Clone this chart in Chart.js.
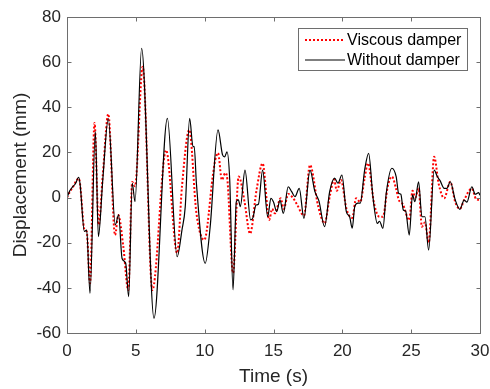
<!DOCTYPE html>
<html lang="en">
<head>
<meta charset="UTF-8">
<title>Displacement time history</title>
<style>
  html, body { margin: 0; padding: 0; background: #fff; }
  #wrap { position: relative; width: 490px; height: 389px; }
</style>
</head>
<body>
<div id="wrap"><canvas id="chart" width="490" height="389"></canvas></div>

<script src="https://cdn.jsdelivr.net/npm/chart.js"></script>
<script>
  // values (time in s, displacement in mm)
  const timeWithout = [0, 0.2, 0.41, 0.6, 0.85, 0.95, 1.26, 1.43, 1.67, 2.06, 2.28, 2.6, 3.0, 3.51, 3.75, 4.0, 4.26, 4.48, 4.74, 4.94,
    5.42, 6.32, 7.29, 8.0, 8.35, 8.59, 8.91, 9.15, 9.24, 9.4, 10.04, 10.4, 10.97, 11.3, 11.45, 11.62, 11.82, 12.06, 12.3, 12.45,
    12.59, 12.93, 13.34, 13.5, 13.73, 13.9, 14.21, 14.58, 14.81, 15.0, 15.23, 15.47, 15.71, 16.07, 16.32, 16.56, 16.87, 17.21, 17.65, 18.01,
    18.3, 18.71, 19.08, 19.44, 19.68, 19.97, 20.29, 20.53, 20.72, 20.9, 21.13, 21.3, 21.62, 21.91, 22.22, 22.54, 22.7, 22.95, 23.19, 23.6,
    23.91, 24.09, 24.25, 24.43, 24.6, 24.86, 25.1, 25.27, 25.54, 25.78, 26.0, 26.27, 26.67, 26.9, 27.1, 27.4, 27.6, 27.84, 28.2, 28.54,
    28.85, 29.05, 29.41, 29.65, 29.9, 30];
  const dispWithout = [0, 3, 4.8, 6, 9, 6, -15, -14.4, -42.4, 29.2, -17.3, 8, 35, -12.1, -7.7, -27, -29, -43.9, 6.3, -1.8,
    66.1, -53.5, 35.1, -26.2, -14.4, -4, 35.1, 22.6, 22.6, 6.3, -29.1, -12.9, 30, 18.9, 18, 20.3, 7.8, -40.9, -1.8, -1,
    -4, 12.2, -9.9, -9, -3.3, -3, 12.2, -8.5, -0.3, -2, -6.2, -1.1, -7, 4.8, 2.6, 0.4, 4.1, -9.2, 12.2, 2.6,
    -1.5, -12.9, 2.6, 8.6, 6.4, 10, -6.2, -8.5, -13.6, -4, -2.5, -2.5, 12.2, 19.6, 0.4, -11.4, -10.5, -13.6, 1.9, 13,
    9.3, 1.9, 1.5, -5.5, -6, -16.6, 1.2, -1.8, 7, -8.5, -8.5, -23.2, 12.2, 9.3, 7.5, 4.1, 4.1, 7, -1, -5.2,
    -1.1, -2, 4.8, 1.5, 2.2, 1];

  const timeViscous = [0, 0.2, 0.41, 0.85, 0.95, 1.26, 1.43, 1.67, 2.0, 2.3, 2.6, 3.0, 3.49, 3.73, 4.09, 4.45, 4.74, 4.94, 5.5, 6.2,
    7.2, 8.0, 8.35, 8.88, 9.4, 9.97, 10.6, 10.77, 10.97, 11.25, 11.5, 11.65, 12.06, 12.47, 12.6, 12.9, 13.3, 13.77, 14.21, 14.69,
    14.9, 15.1, 15.52, 15.75, 16.07, 16.4, 16.7, 17.21, 17.65, 18.25, 18.71, 19.1, 19.4, 19.6, 19.9, 20.3, 20.72, 21.0, 21.3, 21.62,
    21.86, 22.3, 22.7, 22.95, 23.3, 23.6, 23.9, 24.1, 24.4, 24.86, 25.1, 25.3, 25.54, 25.78, 26.0, 26.27, 26.67, 27.0, 27.4, 27.84,
    28.2, 28.54, 28.85, 29.41, 29.7, 29.95, 30];
  const dispViscous = [0, 2.5, 4.5, 8.5, 6, -14, -15, -38, 33, -12, 10, 37, -16.6, -7.7, -21.7, -41, 6.9, 5, 58, -41,
    21, -24.6, 4.8, 30, -6.8, -18.8, 10, 16.7, 19.7, 7.8, 10.9, 8, -33.4, 9.3, 7.8, -2, -16, 3.4, 15.2, -9.9,
    -5, -7, -0.3, -5, 1.6, 0, -3, -8, 14.4, -4, -11.4, 1, 8, 3, 7.8, -5, -9, -0.3, -2, 8.6,
    15.2, -2.5, -8.5, -8.5, 5, 9.3, 4, -1, -3, -10, 3, 0, 4, -12.9, -11, -20, 18.1, 6, -0.3, 7,
    -2, -5, -1, 4, -0.5, -1, -1];

  const xTicks = [0, 5, 10, 15, 20, 25, 30];
  const yTicks = [-60, -40, -20, 0, 20, 40, 60, 80];
  const seriesNames = ['Viscous damper', 'Without damper'];

  const FONT = "'Liberation Sans', Arial, sans-serif";
  const AXIS = '#6e6e6e';

  function toPoints(ts, vs) {
    return ts.map((t, i) => ({ x: t, y: vs[i] }));
  }

  // MATLAB style box with inward ticks + legend in the top right corner
  const matlabBox = {
    id: 'matlabBox',
    afterDraw(chart) {
      const ctx = chart.ctx;
      const a = chart.chartArea;
      const xs = chart.scales.x, ys = chart.scales.y;
      const L = Math.round(a.left) + 0.5, R = Math.round(a.right) + 0.5;
      const T = Math.round(a.top) + 0.5, B = Math.round(a.bottom) + 0.5;
      ctx.save();
      ctx.strokeStyle = AXIS;
      ctx.lineWidth = 1;
      ctx.strokeRect(L, T, R - L, B - T);
      ctx.beginPath();
      xTicks.forEach(v => {
        const px = Math.round(xs.getPixelForValue(v)) + 0.5;
        ctx.moveTo(px, B); ctx.lineTo(px, B - 4);
        ctx.moveTo(px, T); ctx.lineTo(px, T + 4);
      });
      yTicks.forEach(v => {
        const py = Math.round(ys.getPixelForValue(v)) + 0.5;
        ctx.moveTo(L, py); ctx.lineTo(L + 4, py);
        ctx.moveTo(R, py); ctx.lineTo(R - 4, py);
      });
      ctx.stroke();

      // legend
      const bx = 298.5, by = 28.5, bw = 169, bh = 42;
      ctx.fillStyle = '#fff';
      ctx.fillRect(bx, by, bw, bh);
      ctx.strokeStyle = AXIS;
      ctx.strokeRect(bx, by, bw, bh);
      const rows = [40, 60];
      chart.data.datasets.forEach((ds, i) => {
        ctx.beginPath();
        ctx.strokeStyle = ds.borderColor;
        ctx.lineWidth = ds.borderWidth;
        ctx.setLineDash(ds.borderDash || []);
        ctx.moveTo(305, rows[i]);
        ctx.lineTo(345, rows[i]);
        ctx.stroke();
        ctx.setLineDash([]);
        ctx.fillStyle = '#000';
        ctx.font = '16px ' + FONT;
        ctx.textBaseline = 'middle';
        ctx.textAlign = 'left';
        ctx.fillText(ds.label, 347, rows[i] + 1);
      });
      ctx.restore();
    }
  };

  new Chart(document.getElementById('chart').getContext('2d'), {
    type: 'line',
    data: {
      datasets: [
        {
          label: seriesNames[0],
          data: toPoints(timeViscous, dispViscous),
          borderColor: '#ff0000',
          borderWidth: 2,
          borderDash: [2, 2],
          pointRadius: 0,
          cubicInterpolationMode: 'monotone',
          order: 1
        },
        {
          label: seriesNames[1],
          data: toPoints(timeWithout, dispWithout),
          borderColor: '#000000',
          borderWidth: 1.2,
          pointRadius: 0,
          cubicInterpolationMode: 'monotone',
          order: 0
        }
      ]
    },
    options: {
      responsive: false,
      devicePixelRatio: 1,
      animation: false,
      layout: { padding: { top: 17, right: 10, left: 0, bottom: 0 } },
      plugins: {
        legend: { display: false },
        tooltip: { enabled: false }
      },
      scales: {
        x: {
          type: 'linear',
          min: 0, max: 30,
          afterFit: s => { s.height = 56; s.paddingLeft = 0; s.paddingRight = 0; },
          afterBuildTicks: s => { s.ticks = xTicks.map(v => ({ value: v })); },
          grid: { display: false, drawTicks: false },
          border: { display: false },
          ticks: { padding: 8, color: '#262626', font: { family: FONT, size: 17 }, maxRotation: 0 },
          title: { display: true, text: 'Time (s)', color: '#262626', font: { family: FONT, size: 19 }, padding: { top: 0, bottom: 1 } }
        },
        y: {
          min: -60, max: 80,
          afterFit: s => { s.width = 67; s.paddingTop = 0; s.paddingBottom = 0; },
          afterBuildTicks: s => { s.ticks = yTicks.map(v => ({ value: v })); },
          grid: { display: false, drawTicks: false },
          border: { display: false },
          ticks: { padding: 6, color: '#262626', font: { family: FONT, size: 17 } },
          title: { display: true, text: 'Displacement (mm)', color: '#262626', font: { family: FONT, size: 19 }, padding: { top: 9, bottom: 0 } }
        }
      }
    },
    plugins: [matlabBox]
  });
</script>
</body>
</html>
